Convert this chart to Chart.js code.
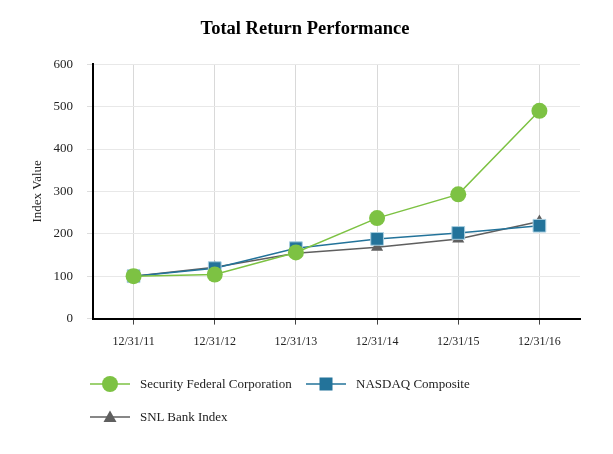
<!DOCTYPE html>
<html lang="en">
<head>
    <meta charset="UTF-8">
    <title>Total Return Performance</title>
    <script src="https://cdn.jsdelivr.net/npm/chart.js"></script>
    <style>
        body { margin: 0; background: #fff; font-family: "Liberation Serif", "Times New Roman", serif; }
        #wrap { position: relative; width: 613px; height: 454px; }
        #legend { position: absolute; left: 90px; top: 372px; width: 480px; font-size: 13px; color: #222; }
        .item { position: absolute; display: flex; align-items: center; height: 24px; white-space: nowrap; }
        .item svg { margin-right: 10px; }
    </style>
</head>
<body>
    <div id="wrap">
        <canvas id="chart" width="613" height="454"></canvas>
        <div id="legend"></div>
    </div>

    <script>
        // values
        let years = ["12/31/11", "12/31/12", "12/31/13", "12/31/14", "12/31/15", "12/31/16"];
        let securityFederal = [100, 104, 156, 237, 293, 490];
        let nasdaqComposite = [100, 119, 166, 188, 202, 219];
        let snlBankIndex = [100, 121, 154, 168, 188, 229];

        let seriesNames = ["Security Federal Corporation", "NASDAQ Composite", "SNL Bank Index"];
        let seriesColors = ["#7dc243", "#23739a", "#5f5f5f"];
        let markers = ["circle", "rect", "triangle"];

        let serif = "'Liberation Serif', 'Times New Roman', serif";

        let chart = new Chart(document.getElementById("chart"), {
            type: "line",
            data: {
                labels: years,
                datasets: [
                    { label: seriesNames[0], data: securityFederal, borderColor: seriesColors[0], backgroundColor: seriesColors[0],
                      pointStyle: markers[0], pointRadius: 8, pointBorderWidth: 0, borderWidth: 1.5 },
                    { label: seriesNames[1], data: nasdaqComposite, borderColor: seriesColors[1], backgroundColor: seriesColors[1],
                      pointStyle: markers[1], pointRadius: 9, pointBorderWidth: 1, pointBorderColor: "#a9cfe0", borderWidth: 1.5 },
                    { label: seriesNames[2], data: snlBankIndex, borderColor: seriesColors[2], backgroundColor: seriesColors[2],
                      pointStyle: markers[2], pointRadius: 7, pointBorderWidth: 0, borderWidth: 1.5 }
                ]
            },
            options: {
                responsive: false,
                animation: false,
                layout: { padding: { left: 30, right: 33, top: 0, bottom: 95 } },
                plugins: {
                    legend: { display: false },
                    tooltip: { enabled: false },
                    title: {
                        display: true,
                        text: "Total Return Performance",
                        color: "#000",
                        font: { family: serif, size: 18.5, weight: "bold" },
                        padding: { top: 18, bottom: 24 }
                    }
                },
                scales: {
                    x: {
                        offset: true,
                        grid: { color: "#d9d9d9", offset: false, tickLength: 6, tickColor: "#444" },
                        border: { color: "#000", width: 2 },
                        ticks: { color: "#222", font: { family: serif, size: 12 }, padding: 10, maxRotation: 0 }
                    },
                    y: {
                        min: 0,
                        max: 600,
                        afterFit: function(scale) { scale.width = 63; },
                        grid: { color: "#e8e8e8", tickLength: 6, tickColor: "#ddd" },
                        border: { color: "#000", width: 2 },
                        ticks: { stepSize: 100, color: "#222", font: { family: serif, size: 13 }, padding: 14 },
                        title: { display: true, text: "Index Value", color: "#222", font: { family: serif, size: 13 }, padding: { top: 0, bottom: 0 } }
                    }
                }
            }
        });

        // legend with a line and marker icon, like the original
        function markerSvg(i) {
            let c = seriesColors[i];
            let shape = "";
            if (markers[i] === "circle") shape = `<circle cx="20" cy="8" r="8" fill="${c}"/>`;
            if (markers[i] === "rect") shape = `<rect x="13.5" y="1.5" width="13" height="13" fill="${c}"/>`;
            if (markers[i] === "triangle") shape = `<polygon points="20,1.5 26.5,13 13.5,13" fill="${c}"/>`;
            return `<svg width="40" height="16"><line x1="0" y1="8" x2="40" y2="8" stroke="${c}" stroke-width="1.5"/>${shape}</svg>`;
        }

        let legendPos = [[0, 0], [216, 0], [0, 33]];
        let legend = document.getElementById("legend");
        seriesNames.forEach((name, i) => {
            let el = document.createElement("div");
            el.className = "item";
            el.style.left = legendPos[i][0] + "px";
            el.style.top = legendPos[i][1] + "px";
            el.innerHTML = markerSvg(i) + "<span>" + name + "</span>";
            legend.appendChild(el);
        });
    </script>
</body>
</html>
